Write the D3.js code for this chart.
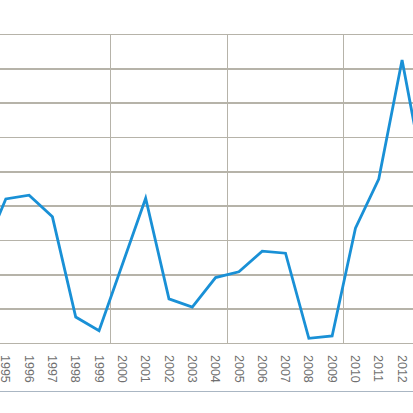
<!DOCTYPE html>
<html>
<head>
<meta charset="utf-8">
<script src="https://cdn.jsdelivr.net/npm/d3@7"></script>
<style>
    html, body { margin: 0; padding: 0; background: #fff; overflow: hidden; }
    svg { display: block; }
    .grid line { stroke: #b6b3a9; stroke-width: 1.4px; shape-rendering: crispEdges; }
    .axis text { fill: #707070; font-family: "Liberation Sans", Arial, sans-serif; font-size: 12.5px; }
</style>
</head>
<body>
<svg id="chart" width="413" height="413"></svg>
<script>
// visible window of a wider chart: 1994 and 2013 only show as line segments at the edges
var years = [1994, 1995, 1996, 1997, 1998, 1999, 2000, 2001, 2002, 2003,
    2004, 2005, 2006, 2007, 2008, 2009, 2010, 2011, 2012, 2013];
var values = [25.9, 42.1, 43.2, 36.9, 7.7, 3.7, 23.0, 42.3, 13.0, 10.6,
    19.2, 20.9, 26.9, 26.3, 1.5, 2.2, 33.6, 47.9, 82.6, 46.6];
var yTicks = [0, 10, 20, 30, 40, 50, 60, 70, 80, 90];
var gridYears = [1995, 2000, 2005, 2010];

(function () {
    var step = 23.31;
    var plotTop = 34.5, plotBottom = 343.5;

    var svg = d3.select('#chart');

    var x = d3.scaleBand()
        .domain(years)
        .range([5.8 - 1.5 * step, 5.8 - 1.5 * step + years.length * step])
        .paddingInner(0)
        .paddingOuter(0);

    var y = d3.scaleLinear()
        .domain([0, 90])
        .range([plotBottom, plotTop]);

    function cx(d) { return x(d) + x.bandwidth() / 2; }

    var grid = svg.append('g').classed('grid', true);

    grid.selectAll('line.h')
        .data(yTicks)
        .enter()
        .append('line')
        .classed('h', true)
        .attr('x1', 0)
        .attr('x2', 413)
        .attr('y1', function (d) { return y(d); })
        .attr('y2', function (d) { return y(d); });

    grid.selectAll('line.v')
        .data(gridYears)
        .enter()
        .append('line')
        .classed('v', true)
        .attr('x1', function (d) { return x(d); })
        .attr('x2', function (d) { return x(d); })
        .attr('y1', plotTop)
        .attr('y2', plotBottom);

    var line = d3.line()
        .x(function (d, i) { return cx(years[i]); })
        .y(function (d) { return y(d); });

    svg.append('path')
        .datum(values)
        .attr('d', line)
        .attr('fill', 'none')
        .attr('stroke', '#1990d6')
        .attr('stroke-width', 2.8)
        .attr('stroke-linejoin', 'miter');

    var axis = svg.append('g').classed('axis', true);

    axis.selectAll('text')
        .data(years)
        .enter()
        .append('text')
        .attr('transform', function (d) { return 'translate(' + cx(d) + ',355) rotate(90)'; })
        .attr('dy', '0.35em')
        .attr('text-anchor', 'start')
        .text(function (d) { return d; });

    // bottom frame line
    svg.append('line')
        .attr('x1', 0)
        .attr('x2', 413)
        .attr('y1', 391.5)
        .attr('y2', 391.5)
        .attr('stroke', '#aab6c3')
        .attr('stroke-width', 1.2);
})();
</script>
</body>
</html>
